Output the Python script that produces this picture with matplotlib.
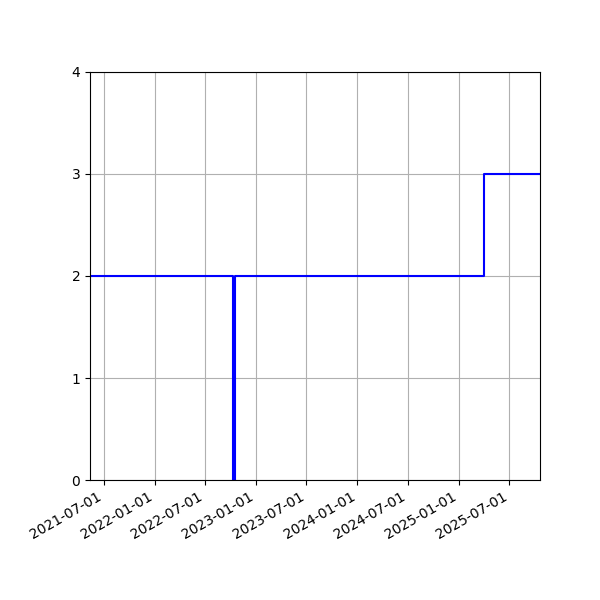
import matplotlib
matplotlib.use("Agg")
import matplotlib.pyplot as plt
import matplotlib.dates as mdates
import numpy as np

dates = np.array(['2021-05-12', '2022-10-10', '2022-10-15', '2025-04-01', '2025-10-20'], dtype='datetime64[D]')
values = [2, 0, 2, 3, 3]

fig = plt.figure(figsize=(6, 6), dpi=100)
ax = fig.add_axes([0.15, 0.2, 0.75, 0.68])
ax.plot(dates, values, drawstyle='steps-post', color='blue', linewidth=1.5)
ax.set_xlim(dates[0], dates[-1])
ax.set_ylim(0, 4)
ax.set_yticks([0, 1, 2, 3, 4])
ax.xaxis.set_major_locator(mdates.MonthLocator(bymonth=[1, 7]))
ax.xaxis.set_major_formatter(mdates.DateFormatter('%Y-%m-%d'))
ax.grid(True)
for lbl in ax.get_xticklabels():
    lbl.set_rotation(30)
    lbl.set_ha('right')
fig.savefig('out.png', dpi=100)
